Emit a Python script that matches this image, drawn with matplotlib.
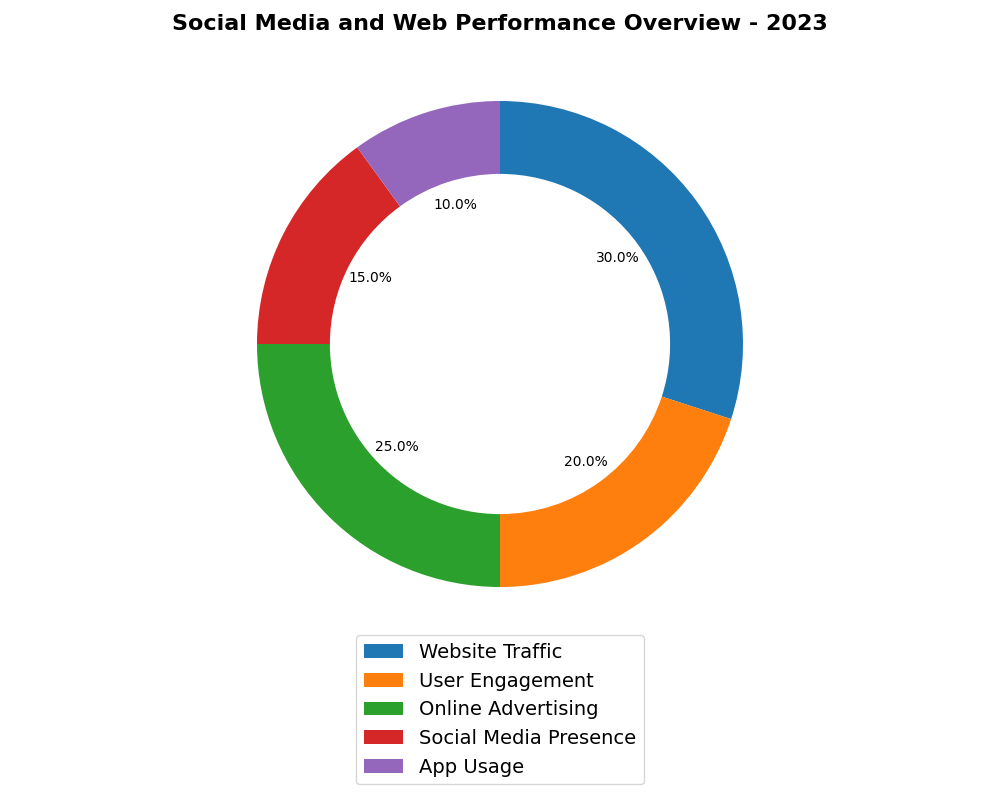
import matplotlib
matplotlib.use("Agg")
import matplotlib.pyplot as plt

categories = ["Website Traffic", "User Engagement", "Online Advertising",
              "Social Media Presence", "App Usage"]
shares = [30, 20, 25, 15, 10]
colors = ["#1f77b4", "#ff7f0e", "#2ca02c", "#d62728", "#9467bd"]

fig = plt.figure(figsize=(10, 8), dpi=100)
ax = fig.add_axes([0.1, 0.1903, 0.8, 0.7594])
wedges, texts, autotexts = ax.pie(shares, colors=colors, autopct="%1.1f%%",
                                  startangle=90, counterclock=False,
                                  pctdistance=0.6,
                                  wedgeprops=dict(width=0.3))
ax.set_ylim(-1.25, 1.25)
ax.set_xlim(-1.25, 1.25)
ax.set_aspect("equal", adjustable="datalim")
fig.suptitle("Social Media and Web Performance Overview - 2023",
             fontsize=16, fontweight="bold", y=0.97, va="center")
fig.legend(wedges, categories, loc="upper center", bbox_to_anchor=(0.5, 0.2184),
           fontsize=14)
plt.savefig("out.png")
